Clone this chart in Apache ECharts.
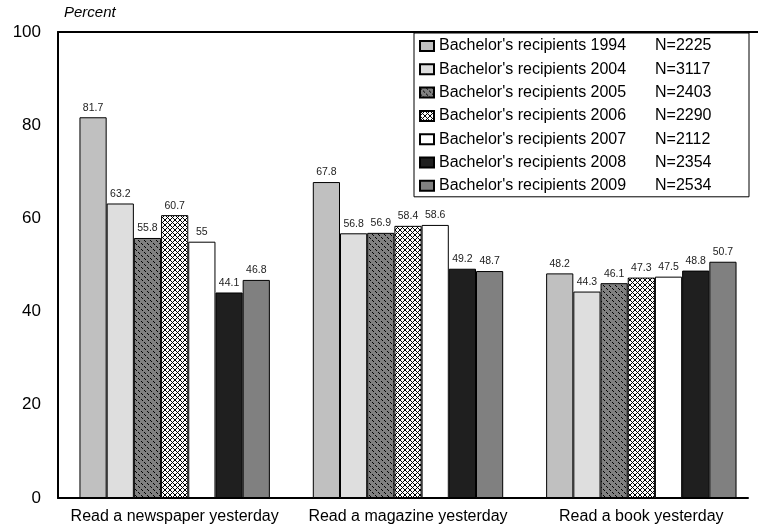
<!DOCTYPE html>
<html lang="en">
<head>
    <meta charset="UTF-8">
    <title>Reading by bachelor's recipients</title>
    <script src="https://cdn.jsdelivr.net/npm/echarts@6/dist/echarts.min.js"></script>
    <style>
        html,body{margin:0;padding:0;background:#fff;}
        #main{width:758px;height:531px;}
    </style>
</head>
<body>
<div id="main"></div>
<script>
    var CATEGORIES=['Read a newspaper yesterday','Read a magazine yesterday','Read a book yesterday'];
    var YEARS=['1994','2004','2005','2006','2007','2008','2009'];
    var N_VALUES=['2225','3117','2403','2290','2112','2354','2534'];
    var Y_TICKS=[0,20,40,60,80,100];
    // one array per cohort: newspaper, magazine, book
    var v1994=[81.7,67.8,48.2];
    var v2004=[63.2,56.8,44.3];
    var v2005=[55.8,56.9,46.1];
    var v2006=[60.7,58.4,47.3];
    var v2007=[55,58.6,47.5];
    var v2008=[44.1,49.2,48.8];
    var v2009=[46.8,48.7,50.7];
    var VALUES=[v1994,v2004,v2005,v2006,v2007,v2008,v2009];

    var FONT='Arial, "Liberation Sans", sans-serif';

    //填充图案
    function dashPattern(){
        var c=document.createElement('canvas');
        c.width=6;c.height=6;
        var ctx=c.getContext('2d');
        ctx.fillStyle='#808080';
        ctx.fillRect(0,0,6,6);
        ctx.fillStyle='#000';
        [0,1,3,4].forEach(function(i){ctx.fillRect(i,i,1,1);});
        return c;
    }
    function crossPattern(){
        var c=document.createElement('canvas');
        c.width=5;c.height=5;
        var ctx=c.getContext('2d');
        ctx.fillStyle='#fff';
        ctx.fillRect(0,0,5,5);
        ctx.fillStyle='#000';
        for(var i=0;i<5;i++){
            ctx.fillRect(i,i,1,1);
            ctx.fillRect(4-i,i,1,1);
        }
        return c;
    }
    var FILLS=[
        '#c0c0c0',
        '#dedede',
        {image:dashPattern(),repeat:'repeat'},
        {image:crossPattern(),repeat:'repeat'},
        '#ffffff',
        '#1f1f1f',
        '#808080'
    ];

    var series=[];
    for(var i=0;i<YEARS.length;i++){
        series.push({
            name:"Bachelor's recipients "+YEARS[i],
            type:'bar',
            xAxisIndex:1,
            yAxisIndex:1,
            data:VALUES[i],
            barWidth:27.2,
            barGap:'0%',
            itemStyle:{color:FILLS[i],borderColor:'#000',borderWidth:1},
            label:{show:true,position:'top',distance:4,fontSize:10.5,color:'#222',fontFamily:FONT},
            emphasis:{disabled:true}
        });
    }

    var chart=echarts.init(document.getElementById('main'));
    chart.setOption({
        animation:false,
        title:{
            text:'Percent',left:59,top:0,
            textStyle:{fontSize:15,fontStyle:'italic',fontWeight:'normal',color:'#000',fontFamily:FONT}
        },
        legend:{
            orient:'vertical',
            left:414,top:33,
            padding:[5,6,3,5],
            itemGap:7.3,
            itemWidth:14,itemHeight:10,
            icon:'rect',
            backgroundColor:'#fff',
            borderColor:'#000',borderWidth:1,
            selectedMode:false,
            formatter:function(name){
                var idx=series.findIndex(function(s){return s.name==name;});
                return '{a|'+name+'}{b|N='+N_VALUES[idx]+'}';
            },
            textStyle:{
                fontFamily:FONT,fontSize:16,color:'#000',lineHeight:16,
                rich:{
                    a:{width:216,fontSize:16,fontFamily:FONT,color:'#000'},
                    b:{width:88,fontSize:16,fontFamily:FONT,color:'#000'}
                }
            }
        },
        grid:[
            {left:58,right:10,top:32,bottom:33},
            {left:58,width:713,top:32,bottom:33}
        ],
        xAxis:[{
            type:'category',gridIndex:0,data:CATEGORIES,
            axisLine:{lineStyle:{color:'#000',width:2}},
            axisTick:{show:false},
            axisLabel:{show:false}
        },{
            type:'category',gridIndex:1,data:CATEGORIES,position:'bottom',
            axisLine:{show:false},
            axisTick:{show:false},
            axisLabel:{interval:0,hideOverlap:false,fontSize:16,color:'#000',fontFamily:FONT,margin:11}
        },{
            type:'category',gridIndex:1,data:CATEGORIES,position:'top',
            axisLine:{onZero:false,lineStyle:{color:'#000',width:2}},
            axisTick:{show:false},
            axisLabel:{show:false}
        }],
        yAxis:[{
            type:'value',gridIndex:0,min:Y_TICKS[0],max:Y_TICKS[Y_TICKS.length-1],interval:20,
            axisLine:{show:true,lineStyle:{color:'#000',width:2}},
            axisTick:{show:false},
            splitLine:{show:false},
            axisLabel:{fontSize:17,color:'#000',fontFamily:FONT,margin:17}
        },{
            type:'value',gridIndex:1,min:0,max:100,show:false,splitLine:{show:false}
        }],
        series:series
    });
</script>
</body>
</html>
